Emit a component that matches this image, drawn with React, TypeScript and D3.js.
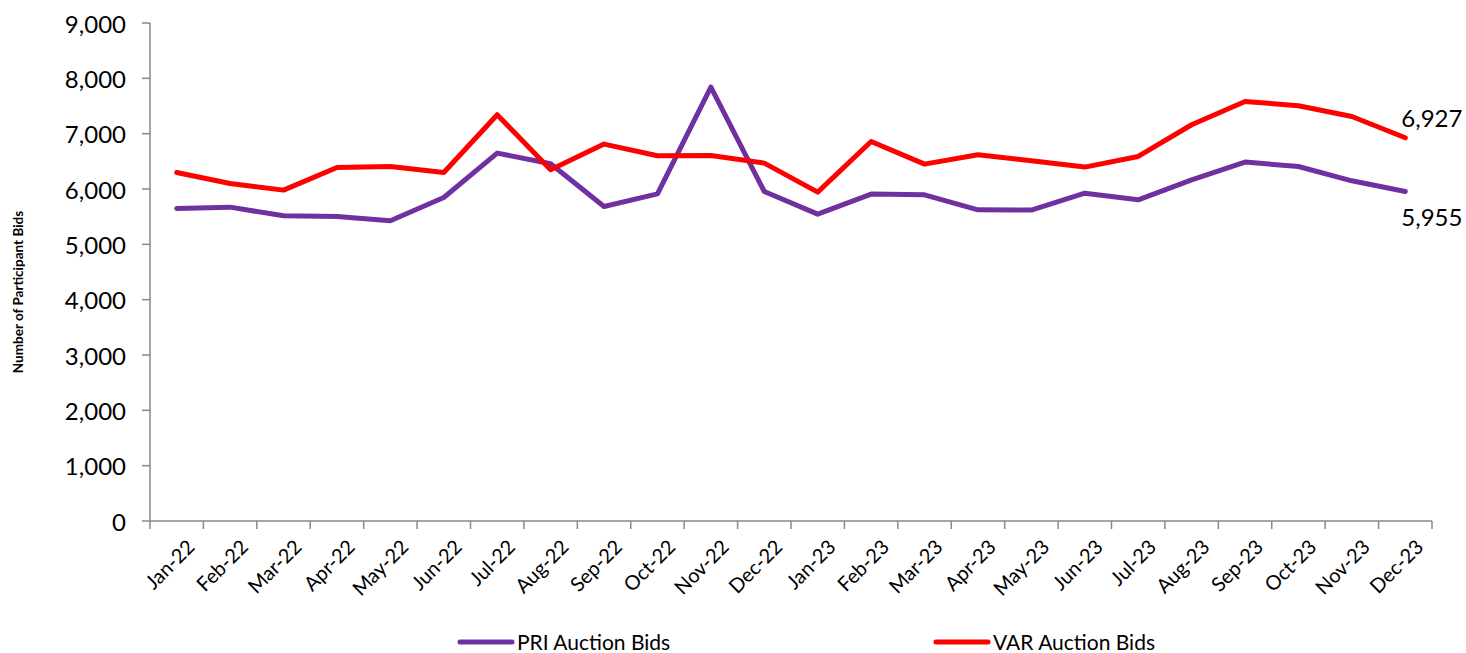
import { useEffect, useRef } from 'react';
import * as d3 from 'd3';

const months = [
  'Jan-22', 'Feb-22', 'Mar-22', 'Apr-22', 'May-22', 'Jun-22',
  'Jul-22', 'Aug-22', 'Sep-22', 'Oct-22', 'Nov-22', 'Dec-22',
  'Jan-23', 'Feb-23', 'Mar-23', 'Apr-23', 'May-23', 'Jun-23',
  'Jul-23', 'Aug-23', 'Sep-23', 'Oct-23', 'Nov-23', 'Dec-23',
];

const priBids = [
  5648, 5672, 5515, 5503, 5425, 5846, 6649, 6455, 5684, 5913, 7842, 5955,
  5546, 5908, 5895, 5624, 5620, 5925, 5805, 6166, 6486, 6407, 6148, 5955,
];

const varBids = [
  6298, 6100, 5980, 6389, 6407, 6298, 7342, 6347, 6812, 6600, 6606, 6468,
  5944, 6859, 6450, 6620, 6510, 6396, 6588, 7161, 7582, 7505, 7311, 6927,
];

const yTicks = [0, 1000, 2000, 3000, 4000, 5000, 6000, 7000, 8000, 9000];

const series = [
  { name: 'PRI Auction Bids', values: priBids, color: '#7030A0' },
  { name: 'VAR Auction Bids', values: varBids, color: '#FF0000' },
];

const W = 1466;
const H = 653;

export default function App() {
  const svgRef = useRef<SVGSVGElement>(null);

  useEffect(() => {
    document.body.style.margin = '0';
    if (!svgRef.current) return;
    const svg = d3.select(svgRef.current);
    svg.selectAll('*').remove();

    const left = 150;
    const right = 1432;
    const top = 23;
    const bottom = 521;
    const font = 'Lato, "Open Sans", sans-serif';
    const axisColor = '#898989';

    const band = d3.scaleBand<string>().domain(months).range([left, right]);
    const x = (m: string) => (band(m) ?? 0) + band.bandwidth() / 2;
    const y = d3.scaleLinear().domain([0, 9000]).range([bottom, top]);
    const fmt = d3.format(',');

    // Y axis
    svg.append('line')
      .attr('x1', left).attr('x2', left)
      .attr('y1', top).attr('y2', bottom)
      .attr('stroke', axisColor).attr('stroke-width', 1.5);
    yTicks.forEach((t) => {
      svg.append('line')
        .attr('x1', left - 8).attr('x2', left)
        .attr('y1', y(t)).attr('y2', y(t))
        .attr('stroke', axisColor).attr('stroke-width', 1.5);
      svg.append('text')
        .attr('x', left - 24)
        .attr('y', y(t))
        .attr('text-anchor', 'end')
        .attr('dominant-baseline', 'central')
        .attr('font-family', font)
        .attr('font-size', '24px')
        .attr('fill', '#000')
        .text(fmt(t));
    });

    // X axis
    svg.append('line')
      .attr('x1', left).attr('x2', right)
      .attr('y1', bottom).attr('y2', bottom)
      .attr('stroke', axisColor).attr('stroke-width', 1.5);
    months.forEach((m, i) => {
      const bx = left + i * band.bandwidth();
      svg.append('line')
        .attr('x1', bx).attr('x2', bx)
        .attr('y1', bottom).attr('y2', bottom + 8)
        .attr('stroke', axisColor).attr('stroke-width', 1.5);
    });
    svg.append('line')
      .attr('x1', right).attr('x2', right)
      .attr('y1', bottom).attr('y2', bottom + 8)
      .attr('stroke', axisColor).attr('stroke-width', 1.5);

    months.forEach((m) => {
      svg.append('text')
        .attr('transform', `translate(${x(m) + 8},${bottom + 16}) rotate(-45)`)
        .attr('text-anchor', 'end')
        .attr('dominant-baseline', 'hanging')
        .attr('font-family', font)
        .attr('font-size', '20px')
        .attr('fill', '#000')
        .text(m);
    });

    // Y axis title
    svg.append('text')
      .attr('transform', `translate(18,${(top + bottom) / 2 + 20}) rotate(-90)`)
      .attr('text-anchor', 'middle')
      .attr('dominant-baseline', 'central')
      .attr('font-family', font)
      .attr('font-size', '13.5px')
      .attr('font-weight', '700')
      .attr('fill', '#000')
      .text('Number of Participant Bids');

    // Lines
    const line = d3.line<number>()
      .x((_, i) => x(months[i]))
      .y((d) => y(d));

    series.forEach((s) => {
      svg.append('path')
        .datum(s.values)
        .attr('d', line)
        .attr('fill', 'none')
        .attr('stroke', s.color)
        .attr('stroke-width', 5)
        .attr('stroke-linecap', 'round')
        .attr('stroke-linejoin', 'round');
    });

    // End labels
    const last = months[months.length - 1];
    svg.append('text')
      .attr('x', x(last) - 4)
      .attr('y', y(varBids[varBids.length - 1]) - 20)
      .attr('dominant-baseline', 'central')
      .attr('font-family', font)
      .attr('font-size', '24px')
      .attr('fill', '#000')
      .text(fmt(varBids[varBids.length - 1]));
    svg.append('text')
      .attr('x', x(last) - 4)
      .attr('y', y(priBids[priBids.length - 1]) + 25)
      .attr('dominant-baseline', 'central')
      .attr('font-family', font)
      .attr('font-size', '24px')
      .attr('fill', '#000')
      .text(fmt(priBids[priBids.length - 1]));

    // Legend
    const legendX = [460, 936];
    series.forEach((s, i) => {
      const lx = legendX[i];
      svg.append('line')
        .attr('x1', lx).attr('x2', lx + 52)
        .attr('y1', 642).attr('y2', 642)
        .attr('stroke', s.color)
        .attr('stroke-width', 5)
        .attr('stroke-linecap', 'round');
      svg.append('text')
        .attr('x', lx + 57)
        .attr('y', 641)
        .attr('dominant-baseline', 'central')
        .attr('font-family', font)
        .attr('font-size', '21px')
        .attr('fill', '#000')
        .text(s.name);
    });
  }, []);

  return <svg ref={svgRef} width={W} height={H} style={{ display: 'block' }} />;
}
